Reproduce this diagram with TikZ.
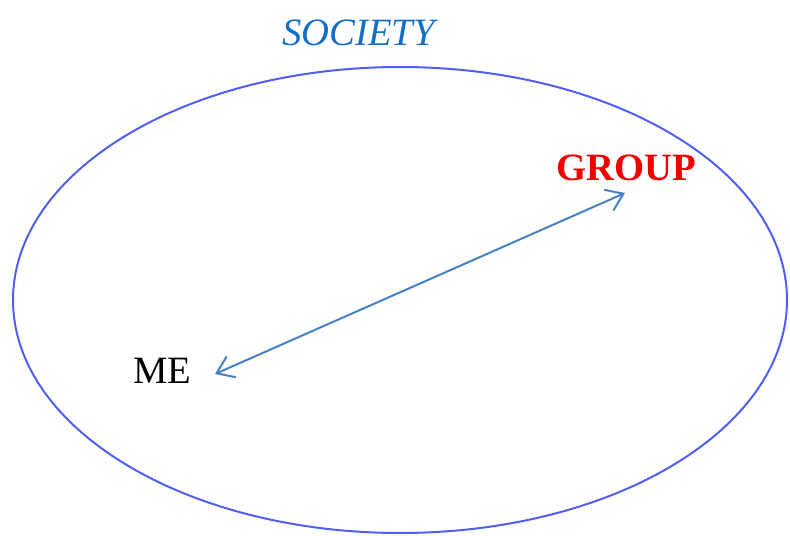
\documentclass[tikz,border=0pt]{standalone}
\usepackage{fontspec}
\setmainfont{Liberation Serif}
\usetikzlibrary{arrows.meta}
\definecolor{ellblue}{RGB}{80,95,245}
\definecolor{arrblue}{RGB}{70,130,195}
\definecolor{socblue}{RGB}{20,110,200}
\definecolor{grpred}{RGB}{240,0,0}
\tikzset{
  lbl/.style={inner sep=0pt, anchor=base west, font=\fontsize{29}{34}\selectfont},
  link/.style={draw=arrblue, line width=1.5pt, {Straight Barb[length=12pt,width=17pt,line width=1.5pt]}-{Straight Barb[length=12pt,width=17pt,line width=1.5pt]}}
}
\begin{document}
\begin{tikzpicture}[x=0.75pt,y=-0.75pt]
\useasboundingbox (0,0) rectangle (790,536);
\draw[ellblue, line width=1.5pt] (400,300) ellipse [x radius=387, y radius=233];
\node[lbl, text=socblue, font=\fontsize{29}{34}\selectfont\itshape] (soc) at (282,45) {SOCIETY};
\node[lbl, text=grpred, font=\fontsize{29}{34}\selectfont\bfseries] (grp) at (556,180) {GROUP};
\node[lbl] (me) at (133,383) {ME};
\coordinate (a) at (215,374);
\coordinate (b) at (625,193);
\draw[link] (a) -- (b);
\end{tikzpicture}
\end{document}
